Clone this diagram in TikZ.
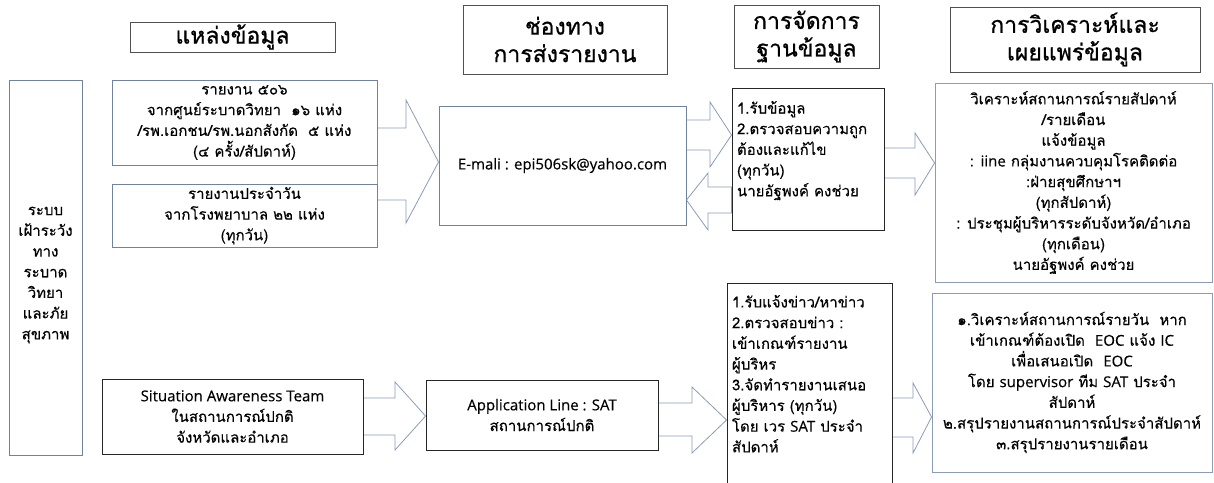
\documentclass[tikz,border=0pt]{standalone}
\usepackage{fontspec}
\newfontfamily\thaifont[Script=Thai,FakeBold=0.3]{Loma}
\newfontfamily\thaihead[Script=Thai,FakeBold=0.8]{Loma}
\newfontfamily\latfont[FakeBold=0.3]{Open Sans}
\newcommand{\lat}[1]{{\latfont #1}}
\usepackage{tikz}
\usetikzlibrary{backgrounds}
\definecolor{slate}{RGB}{112,130,158}
\definecolor{slatelt}{RGB}{140,156,182}
\definecolor{hdgray}{RGB}{80,80,80}
\tikzset{
  headbox/.style={draw=hdgray,fill=white,line width=0.9pt,inner sep=0pt,align=center,
    font=\thaihead\fontsize{23}{27.5}\selectfont},
  srcbox/.style={draw=slate,fill=white,line width=0.9pt,inner sep=0pt,align=center},
  anabox/.style={draw=slatelt,fill=white,line width=0.9pt,inner sep=0pt,align=center},
  procbox/.style={draw=black!85,fill=white,line width=0.9pt,inner sep=0pt,align=center},
  listbox/.style={draw=black!85,fill=white,line width=0.9pt,inner xsep=5pt,inner ysep=0pt,align=left},
  txt/.style={inner sep=0pt,align=center},
  fatarr/.style={draw=slatelt,fill=white,line width=0.8pt,line join=miter},
  every node/.style={font=\thaifont\fontsize{15}{20.7}\selectfont}
}

\begin{document}
\begin{tikzpicture}[x=1pt,y=-1pt]
\useasboundingbox (0,0) rectangle (1214,482);

% headings
\node[headbox,minimum width=205,minimum height=30] (hsrc) at (232.5,37) {แหล่งข้อมูล};
\node[headbox,minimum width=204,minimum height=69] (hchan) at (565,39.5) {ช่องทาง\\การส่งรายงาน};
\node[headbox,minimum width=145,minimum height=63] (hdb) at (806.5,36.5) {การจัดการ\\ฐานข้อมูล};
\node[headbox,minimum width=250,minimum height=65] (hana) at (1075,39.5) {การวิเคราะห์และ\\เผยแพร่ข้อมูล};

% sources
\node[srcbox,minimum width=73,minimum height=375] (sys) at (45.5,267.5) {};
\node[txt] (systxt) at (45.5,275) {ระบบ\\เฝ้าระวัง\\ทาง\\ระบาด\\วิทยา\\และภัย\\สุขภาพ};
\node[srcbox,minimum width=265,minimum height=85] (src1) at (244.5,122.5)
  {รายงาน ๕๐๖\\จากศูนย์ระบาดวิทยา\ \ ๑๖ แห่ง\\/รพ.เอกชน/รพ.นอกสังกัด\ \ ๕ แห่ง\\(๔ ครั้ง/สัปดาห์)};
\node[srcbox,minimum width=265,minimum height=63] (src2) at (244.5,215.5)
  {รายงานประจำวัน\\จากโรงพยาบาล ๒๒ แห่ง\\(ทุกวัน)};
\node[procbox,minimum width=261,minimum height=75] (sat) at (232.5,416.5)
  {\lat{Situation Awareness Team}\\ในสถานการณ์ปกติ\\จังหวัดและอำเภอ};

% channels
\node[srcbox,minimum width=247,minimum height=119] (mail) at (562.5,165.5) {\lat{E-mali : epi506sk@yahoo.com}};
\node[procbox,minimum width=232,minimum height=70] (app) at (542,415) {\lat{Application Line : SAT}\\สถานการณ์ปกติ};

% database
\node[listbox,text width=142,minimum height=142] (db) at (808,159)
  {1.รับข้อมูล\\2.ตรวจสอบความถูก\\ต้องและแก้ไข\\(ทุกวัน)\\นายอัฐพงค์ คงช่วย\\~};
\node[listbox,text width=155,minimum height=202] (satdo) at (809.5,384)
  {1.รับแจ้งข่าว/หาข่าว\\2.ตรวจสอบข่าว :\\เข้าเกณฑ์รายงาน\\ผู้บริหร\\3.จัดทำรายงานเสนอ\\ผู้บริหาร (ทุกวัน)\\โดย เวร \lat{SAT} ประจำ\\สัปดาห์\\~};

% analysis
\node[anabox,minimum width=277,minimum height=199] (ana1) at (1073.5,182.5)
  {วิเคราะห์สถานการณ์รายสัปดาห์\\/รายเดือน\\แจ้งข้อมูล\\: \lat{iine} กลุ่มงานควบคุมโรคติดต่อ\\:ฝ่ายสุขศึกษาฯ\\(ทุกสัปดาห์)\\: ประชุมผู้บริหารระดับจังหวัด/อำเภอ\\(ทุกเดือน)\\นายอัฐพงค์ คงช่วย};
\node[anabox,minimum width=280,minimum height=179] (ana2) at (1072,382.5)
  {๑.วิเคราะห์สถานการณ์รายวัน\ \ หาก\\เข้าเกณฑ์ต้องเปิด\ \ \lat{EOC} แจ้ง \lat{IC}\\เพื่อเสนอเปิด\ \ \lat{EOC}\\โดย \lat{supervisor} ทีม \lat{SAT} ประจำ\\สัปดาห์\\๒.สรุปรายงานสถานการณ์ประจำสัปดาห์\\๓.สรุปรายงานรายเดือน};

% block arrows
\begin{scope}[on background layer]
\draw[fatarr] (src1.east|-0,128) -- (406,128) -- (406,100) -- (mail.west|-0,162)
  -- (406,223) -- (406,200) -- (src2.east|-0,200) -- cycle;
\draw[fatarr] (mail.east|-0,120) -- (710,120) -- (710,102) -- (db.west|-0,135)
  -- (710,167) -- (710,150) -- (mail.east|-0,150) -- cycle;
\draw[fatarr] (db.west|-0,187) -- (708,187) -- (708,173) -- (mail.east|-0,200)
  -- (708,230) -- (708,213) -- (db.west|-0,213) -- cycle;
\draw[fatarr] (db.east|-0,148) -- (915,148) -- (915,133) -- (ana1.west|-0,163)
  -- (915,195) -- (915,178) -- (db.east|-0,178) -- cycle;
\draw[fatarr] (sat.east|-0,398) -- (395,398) -- (395,382) -- (app.west|-0,416)
  -- (395,450) -- (395,435) -- (sat.east|-0,435) -- cycle;
\draw[fatarr] (app.east|-0,403) -- (692,403) -- (692,387) -- (satdo.west|-0,420)
  -- (692,453) -- (692,436) -- (app.east|-0,436) -- cycle;
\draw[fatarr] (satdo.east|-0,398) -- (913,398) -- (913,383) -- (ana2.west|-0,417)
  -- (913,453) -- (913,437) -- (satdo.east|-0,437) -- cycle;
\end{scope}
\end{tikzpicture}
\end{document}
